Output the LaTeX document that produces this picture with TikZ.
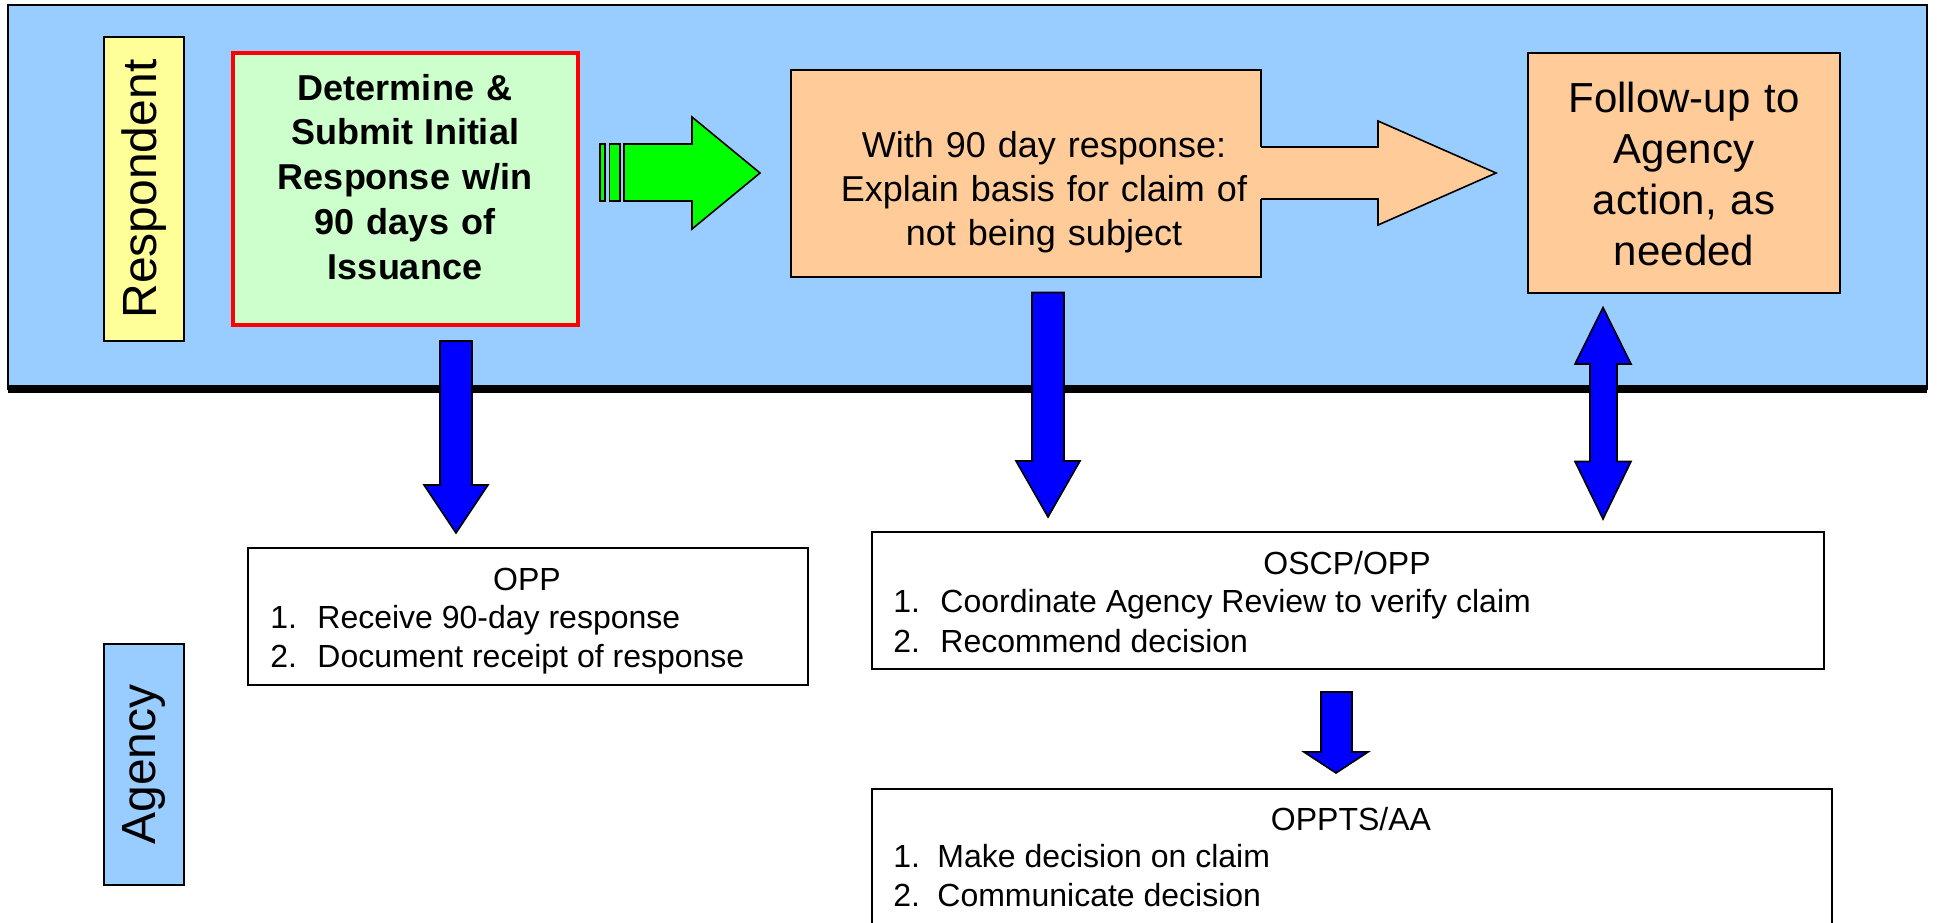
\documentclass[tikz,border=0pt]{standalone}
\usepackage{fontspec}
\setmainfont{Liberation Sans}
\definecolor{bandblue}{HTML}{99CCFF}
\definecolor{lightyellow}{HTML}{FFFF99}
\definecolor{lightgreen}{HTML}{CCFFCC}
\definecolor{brightgreen}{HTML}{00FF00}
\definecolor{peach}{HTML}{FFCC99}
\definecolor{arrowblue}{HTML}{0000FF}
\begin{document}
\begin{tikzpicture}[x=0.5pt,y=-0.5pt,
  boxstyle/.style={draw=black, line width=0.8pt, inner sep=0pt, outer sep=0pt},
  lanelabel/.style={boxstyle, rotate=90, font=\fontsize{24}{28}\selectfont},
  bigtext/.style={inner sep=0pt, anchor=base, align=center},
  itemtext/.style={inner sep=0pt, anchor=base west, font=\fontsize{16}{19}\selectfont},
  titletext/.style={inner sep=0pt, anchor=base, font=\fontsize{16}{19}\selectfont},
  bluearrow/.style={draw=black, line width=0.8pt, fill=arrowblue, line join=miter},
  greenarrow/.style={draw=black, line width=0.8pt, fill=brightgreen, line join=miter}
]
\useasboundingbox (0,0) rectangle (1937,922);
\clip (0,0) rectangle (1937,922);

% respondent lane
\node[boxstyle, fill=bandblue, minimum width=959.5pt, minimum height=192pt] (band) at (967.5,197) {};
\draw[line width=3.7pt] (band.south west) -- (band.south east);

% lane labels
\node[lanelabel, fill=lightyellow, minimum width=152pt, minimum height=40pt] (resp) at (144,189) {Respondent};
\node[lanelabel, fill=bandblue, minimum width=120.5pt, minimum height=40pt] (agency) at (144,764.5) {Agency};

% initial response box
\node[draw=red, line width=2pt, fill=lightgreen, inner sep=0pt, minimum width=172.5pt, minimum height=136pt] (initial) at (405.5,189) {};
\node[bigtext, text width=170pt, font=\bfseries\fontsize{18}{22.4}\selectfont] (initialtext) at (405,100)
  {Determine \&\\Submit Initial\\Response w/in\\90 days of\\Issuance};

% green arrow
\draw[greenarrow] (600,144) rectangle (605,201);
\draw[greenarrow] (609.5,144) rectangle (620,201);
\draw[greenarrow] (624,144) -- (692,144) -- (692,117) -- (760,173) -- (692,229) -- (692,201) -- (624,201) -- cycle;

% basis box
\node[boxstyle, fill=peach, minimum width=235pt, minimum height=103.5pt] (basis) at (1026,173.5) {};
\fill[peach] (1258,147) -- (1378,147) -- (1378,121) -- (1496,173) -- (1378,225) -- (1378,199) -- (1258,199) -- cycle;
\draw[line width=0.8pt, line join=miter] (basis.east |- 0,147) -- (1378,147) -- (1378,121) -- (1496,173) -- (1378,225) -- (1378,199) -- (basis.east |- 0,199);
\node[bigtext, text width=240pt, font=\fontsize{18}{22}\selectfont] (basistext) at (1044,157)
  {With 90 day response:\\Explain basis for claim of\\not being subject};

% follow-up box
\node[boxstyle, fill=peach, minimum width=156pt, minimum height=120pt] (follow) at (1684,173) {};
\node[bigtext, text width=150pt, font=\fontsize{21}{25.6}\selectfont] (followtext) at (1684,112)
  {Follow-up to\\Agency\\action, as\\needed};

% OPP box
\node[boxstyle, fill=white, minimum width=280pt, minimum height=68.5pt] (opp) at (528,616.5) {};
\node[titletext] (opptitle) at (527,590) {OPP};
\node[itemtext] (oppn1) at (270,628) {1.};
\node[itemtext] (oppi1) at (317,628) {Receive 90-day response};
\node[itemtext] (oppn2) at (270,667) {2.};
\node[itemtext] (oppi2) at (317,667) {Document receipt of response};

% OSCP/OPP box
\node[boxstyle, fill=white, minimum width=476pt, minimum height=68.5pt] (oscp) at (1348,600.5) {};
\node[titletext] (oscptitle) at (1347,574) {OSCP/OPP};
\node[itemtext] (oscpn1) at (893,612) {1.};
\node[itemtext] (oscpi1) at (940,612) {Coordinate Agency Review to verify claim};
\node[itemtext] (oscpn2) at (893,652) {2.};
\node[itemtext] (oscpi2) at (940,652) {Recommend decision};

% OPPTS/AA box
\node[boxstyle, fill=white, minimum width=480pt, minimum height=100pt] (oppts) at (1352,889) {};
\node[titletext] (opptstitle) at (1351,830) {OPPTS/AA};
\node[itemtext] (opptsn1) at (893,867) {1.};
\node[itemtext] (opptsi1) at (937,867) {Make decision on claim};
\node[itemtext] (opptsn2) at (893,906) {2.};
\node[itemtext] (opptsi2) at (937,906) {Communicate decision};

% blue arrows
\draw[bluearrow] (440,341) -- (472,341) -- (472,485) -- (488,485) -- (456,533) -- (424,485) -- (440,485) -- cycle;
\draw[bluearrow] (1032,292.5) -- (1064,292.5) -- (1064,461) -- (1080,461) -- (1048,517) -- (1016,461) -- (1032,461) -- cycle;
\draw[bluearrow] (1603,307.5) -- (1631,364) -- (1617,364) -- (1617,461.5) -- (1631,461.5) -- (1603,519) -- (1575,461.5) -- (1590,461.5) -- (1590,364) -- (1575,364) -- cycle;
\draw[bluearrow] (1321,692) -- (1352,692) -- (1352,752) -- (1368,752) -- (1336,773) -- (1304,752) -- (1321,752) -- cycle;
\end{tikzpicture}
\end{document}
